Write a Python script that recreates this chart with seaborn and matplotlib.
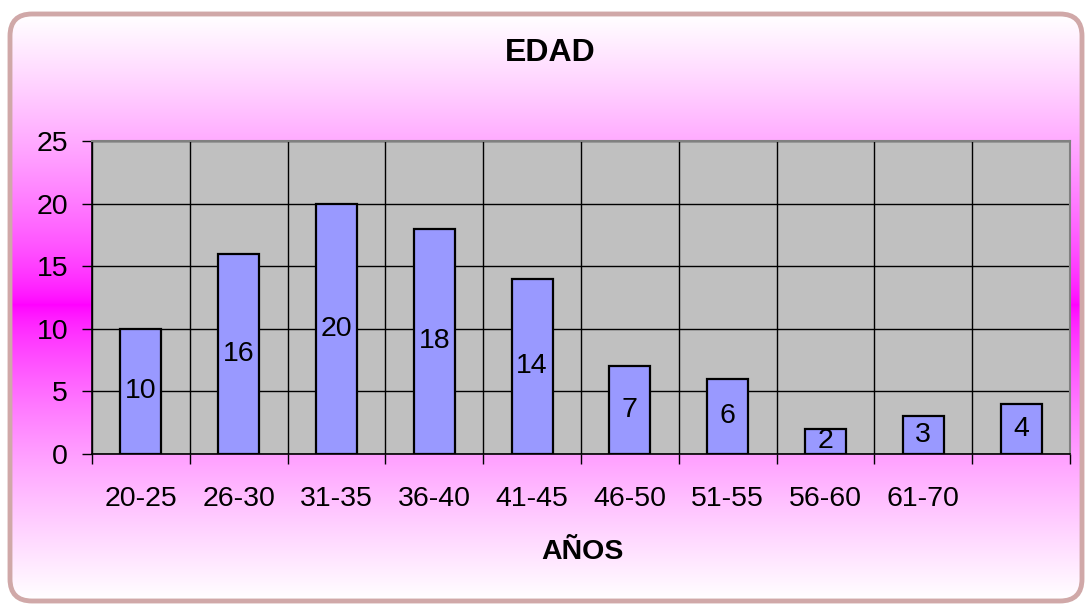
import numpy as np
import pandas as pd
import matplotlib
matplotlib.use("Agg")
import matplotlib.pyplot as plt
import seaborn as sns
from matplotlib.patches import FancyBboxPatch
from matplotlib.ticker import MultipleLocator

# data
age_groups = ['20-25', '26-30', '31-35', '36-40', '41-45', '46-50', '51-55', '56-60', '61-70', ' ']
counts = [10, 16, 20, 18, 14, 7, 6, 2, 3, 4]
y_ticks = [0, 5, 10, 15, 20, 25]

sns.set_style("white")
plt.rcParams['font.family'] = ['Liberation Sans', 'DejaVu Sans']
plt.rcParams['text.color'] = 'black'
plt.rcParams['xtick.color'] = 'black'
plt.rcParams['ytick.color'] = 'black'

W, H = 1085, 606
fig = plt.figure(figsize=(W / 100, H / 100), dpi=100)
fig.patch.set_facecolor('white')

# background: white -> magenta -> white, inside a rounded frame
bg = fig.add_axes([0, 0, 1, 1], zorder=0)
bg.set_xlim(0, W)
bg.set_ylim(H, 0)
bg.axis('off')
yy = np.linspace(0, 1, 600)
top, mid, bot = 15 / H, 305 / H, 600 / H
d = np.where(yy < mid, (mid - yy) / (mid - top), (yy - mid) / (bot - mid))
d = np.clip(d, 0, 1) ** 0.7
grad = np.ones((600, 1, 3))
grad[:, 0, 1] = d
img = bg.imshow(grad, extent=[0, W, H, 0], aspect='auto', zorder=0)
frame = FancyBboxPatch((10, 14), W - 13, H - 19, boxstyle="round,pad=0,rounding_size=22",
                       facecolor='none', edgecolor='#d0a8a8', linewidth=3.5, zorder=2)
bg.add_patch(frame)
img.set_clip_path(frame)

# plot area
x0, x1, y0, y1 = 92, 1070, 141, 454
ax = fig.add_axes([x0 / W, 1 - y1 / H, (x1 - x0) / W, (y1 - y0) / H], zorder=1)
ax.set_facecolor('#c0c0c0')

df = pd.DataFrame({'grupo': age_groups, 'n': counts})
sns.barplot(data=df, x='grupo', y='n', color='#9999ff', saturation=1,
            edgecolor='black', linewidth=1.6, width=0.42, ax=ax, zorder=3)
for c in ax.containers:
    ax.bar_label(c, label_type='center', fontsize=20.5, color='black', zorder=4)

ax.set_xlim(-0.5, len(age_groups) - 0.5)
ax.set_ylim(0, 25)
ax.set_yticks(y_ticks)
ax.xaxis.set_minor_locator(MultipleLocator(1, offset=0.5))
ax.grid(True, which='major', axis='y', color='black', linewidth=1)
ax.grid(True, which='minor', axis='x', color='black', linewidth=1)
ax.set_axisbelow(True)

ax.tick_params(axis='y', which='major', direction='out', length=7.2, width=1,
               color='black', pad=10, labelsize=20.5, left=True)
ax.tick_params(axis='x', which='major', length=0, pad=23, labelsize=20.5)
ax.tick_params(axis='x', which='minor', direction='out', length=7.2, width=1,
               color='black', bottom=True)
ax.set_xlabel('')
ax.set_ylabel('')

for s in ['left', 'bottom']:
    ax.spines[s].set_color('black')
    ax.spines[s].set_linewidth(1.2)
for s in ['top', 'right']:
    ax.spines[s].set_color('#808080')
    ax.spines[s].set_linewidth(1.5)

fig.text(550 / W, 1 - 53 / H, 'EDAD', ha='center', va='center', fontsize=23, fontweight='bold')
fig.text(582 / W, 1 - 552 / H, 'AÑOS', ha='center', va='center', fontsize=20.5, fontweight='bold')

fig.savefig('out.png', dpi=100)
